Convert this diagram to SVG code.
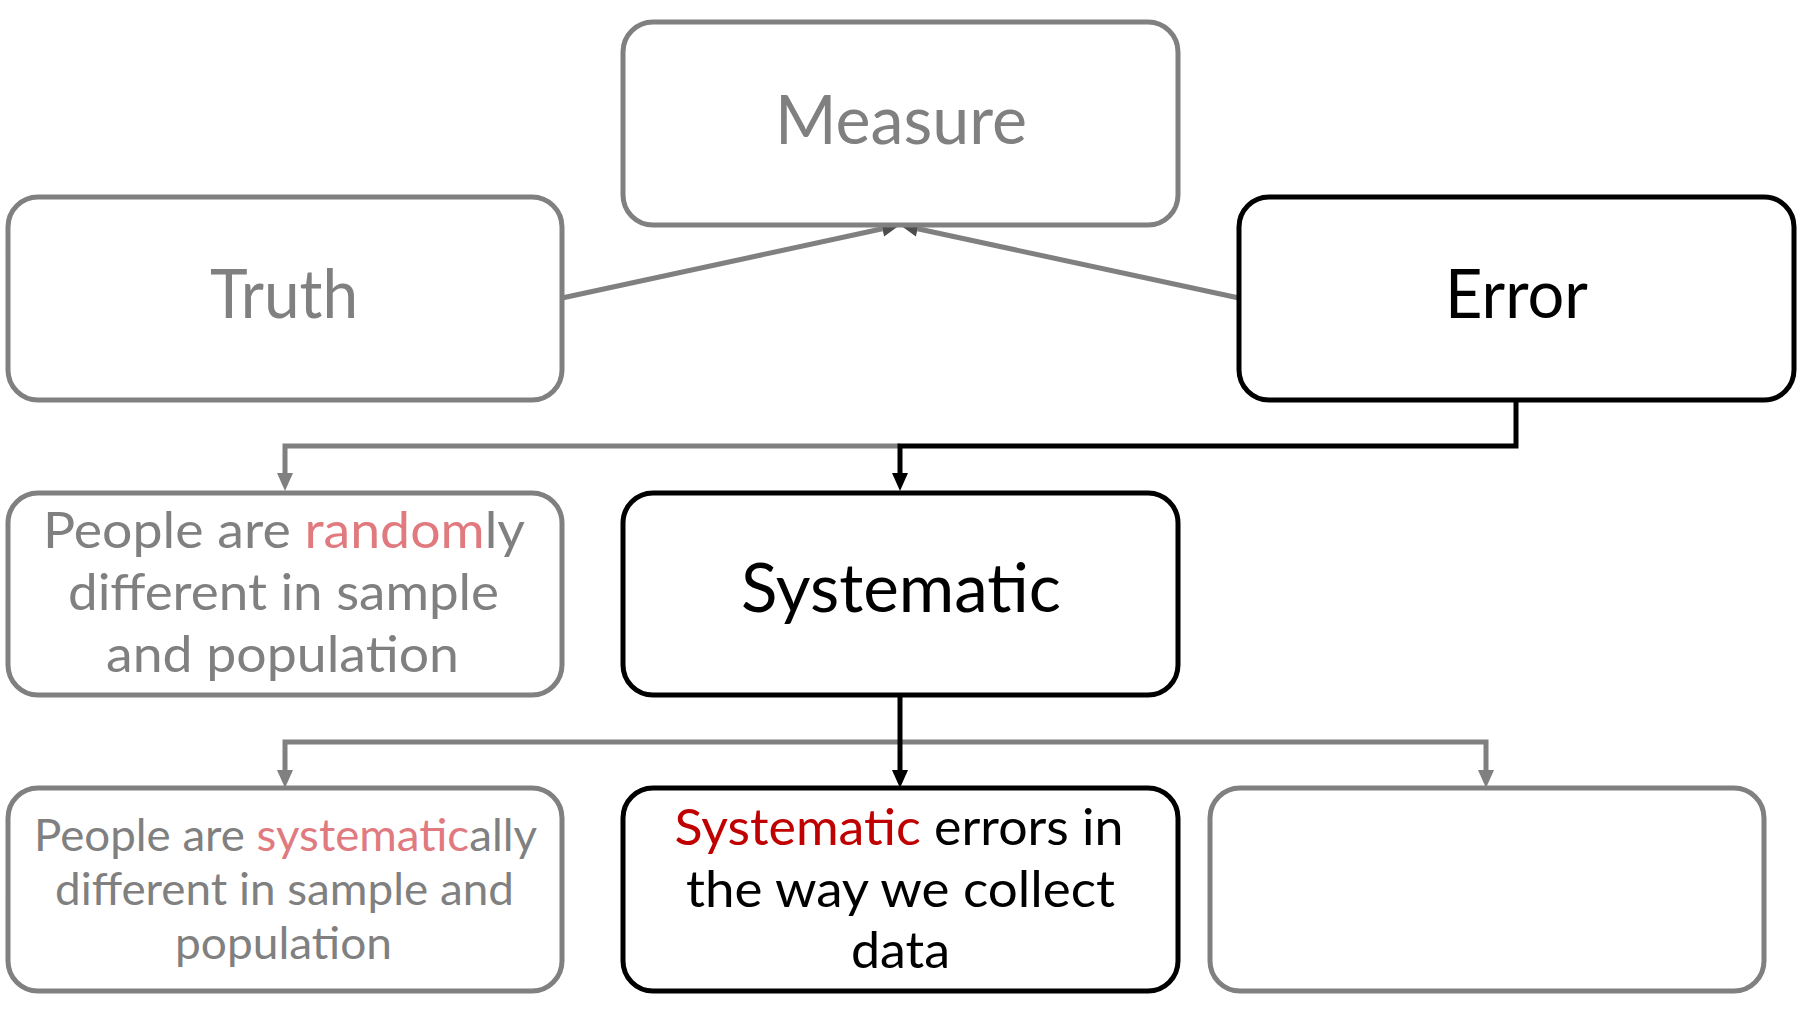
<svg xmlns="http://www.w3.org/2000/svg" width="1801" height="1013" viewBox="0 0 1801 1013">
<defs>
<style>
.box{fill:#fff;stroke-width:5;}
.g{stroke:#808080;}
.k{stroke:#000;}
.t{font-family:Lato,"Open Sans","DejaVu Sans",sans-serif;text-anchor:middle;}
.tg{fill:#808080;}
.tk{fill:#000;}
.lr{fill:#e07a7f;}
.dr{fill:#c00000;}
.c{fill:none;stroke-width:5;stroke-linejoin:miter;}
</style>
<marker id="ag" markerUnits="userSpaceOnUse" markerWidth="18" markerHeight="16" refX="0" refY="8" orient="auto" overflow="visible"><path d="M0,0 L18,8 L0,16 z" fill="#808080"/></marker>
<marker id="ad" markerUnits="userSpaceOnUse" markerWidth="18" markerHeight="16" refX="0" refY="8" orient="auto" overflow="visible"><path d="M0,0 L18,8 L0,16 z" fill="#4d4d4d"/></marker>
<marker id="ak" markerUnits="userSpaceOnUse" markerWidth="18" markerHeight="16" refX="0" refY="8" orient="auto" overflow="visible"><path d="M0,0 L18,8 L0,16 z" fill="#000"/></marker>
</defs>
<rect width="1801" height="1013" fill="#fff"/>
<g id="connectors">
<path class="c g" d="M562,298 L882.4,228.8" marker-end="url(#ad)"/>
<path class="c g" d="M1239,298 L917.6,228.8" marker-end="url(#ad)"/>
<path class="c g" d="M900,446 H285 V473" marker-end="url(#ag)"/>
<path class="c k" d="M1516,400 V446 H900 V473" marker-end="url(#ak)"/>
<path class="c g" d="M900,742 H285 V770" marker-end="url(#ag)"/>
<path class="c g" d="M900,742 H1486 V770" marker-end="url(#ag)"/>
<path class="c k" d="M900,695 V770" marker-end="url(#ak)"/>
</g>
<g id="measure">
<rect class="box g" x="623" y="22" width="555" height="203" rx="30"/>
<text class="t tg" x="901" y="144" font-size="67" textLength="252" lengthAdjust="spacingAndGlyphs">Measure</text>
</g>
<g id="truth">
<rect class="box g" x="8" y="197" width="554" height="203" rx="30"/>
<text class="t tg" x="284" y="318" font-size="67" textLength="148" lengthAdjust="spacingAndGlyphs">Truth</text>
</g>
<g id="error">
<rect class="box k" x="1239" y="197" width="555" height="203" rx="30"/>
<text class="t tk" x="1516.5" y="318" font-size="67" textLength="143" lengthAdjust="spacingAndGlyphs">Error</text>
</g>
<g id="random">
<rect class="box g" x="8" y="493" width="554" height="202" rx="30"/>
<text class="t tg" x="284" y="548" font-size="50" textLength="482" lengthAdjust="spacingAndGlyphs">People are <tspan class="lr">random</tspan>ly</text>
<text class="t tg" x="283.5" y="610" font-size="50" textLength="431" lengthAdjust="spacingAndGlyphs">different in sample</text>
<text class="t tg" x="282.5" y="672" font-size="50" textLength="353" lengthAdjust="spacingAndGlyphs">and population</text>
</g>
<g id="systematic">
<rect class="box k" x="623" y="493" width="555" height="202" rx="30"/>
<text class="t tk" x="901" y="612" font-size="67" textLength="320" lengthAdjust="spacingAndGlyphs">Systematic</text>
</g>
<g id="sys-people">
<rect class="box g" x="8" y="788" width="554" height="203" rx="30"/>
<text class="t tg" x="285.5" y="851" font-size="44" textLength="503" lengthAdjust="spacingAndGlyphs">People are <tspan class="lr">systematic</tspan>ally</text>
<text class="t tg" x="284.5" y="905" font-size="44" textLength="459" lengthAdjust="spacingAndGlyphs">different in sample and</text>
<text class="t tg" x="283.5" y="959" font-size="44" textLength="217" lengthAdjust="spacingAndGlyphs">population</text>
</g>
<g id="sys-collect">
<rect class="box k" x="623" y="788" width="555" height="203" rx="30"/>
<text class="t tk" x="899" y="845" font-size="51" textLength="449" lengthAdjust="spacingAndGlyphs"><tspan class="dr">Systematic</tspan> errors in</text>
<text class="t tk" x="900.5" y="907" font-size="51" textLength="429" lengthAdjust="spacingAndGlyphs">the way we collect</text>
<text class="t tk" x="900.5" y="968" font-size="51" textLength="99" lengthAdjust="spacingAndGlyphs">data</text>
</g>
<g id="empty">
<rect class="box g" x="1210" y="788" width="554" height="203" rx="30"/>
</g>
</svg>
